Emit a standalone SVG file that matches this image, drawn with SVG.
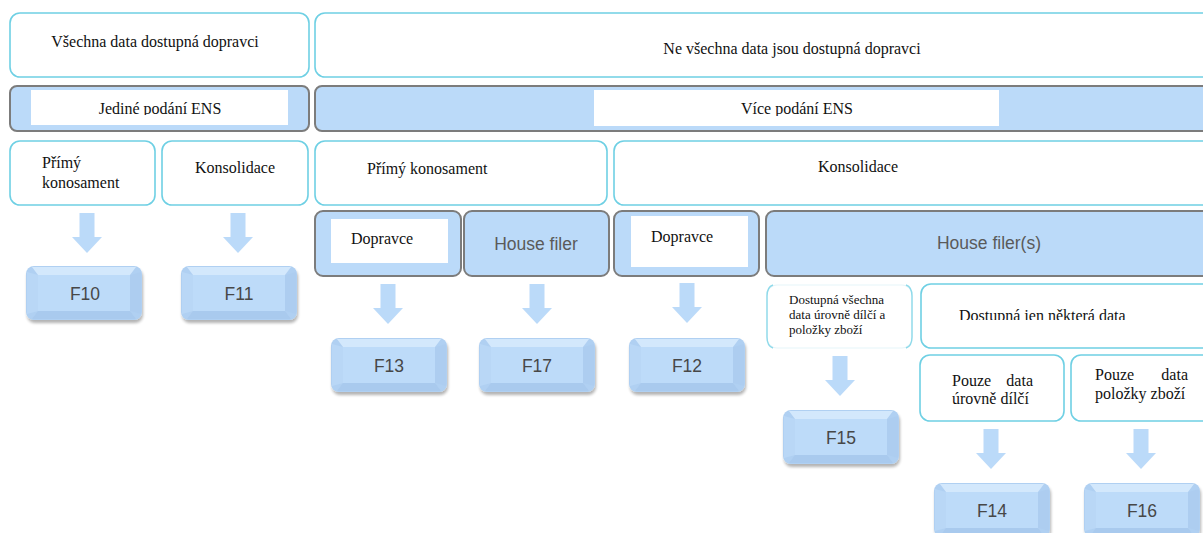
<svg xmlns="http://www.w3.org/2000/svg" width="1203" height="533" viewBox="0 0 1203 533">
<style>
.wb{fill:#ffffff;stroke:#6fd0e4;stroke-width:1.6}
.bb{fill:#bbdaf9;stroke:#7c7c7c;stroke-width:2}
.wr{fill:#ffffff}
.t{font-family:"Liberation Serif","Times New Roman",serif;font-size:16px;fill:#111}
.ts{font-family:"Liberation Serif","Times New Roman",serif;font-size:13px;fill:#111}
.hf{font-family:"Liberation Sans",Arial,sans-serif;font-size:17.5px;fill:#5a5a5a}
.fl{font-family:"Liberation Sans",Arial,sans-serif;font-size:17.5px;fill:#474747}
.ar{fill:#bbdaf9}
</style>
<defs>
<clipPath id="cj"><rect x="31" y="90" width="257" height="25"/></clipPath>
<clipPath id="cv"><rect x="594" y="90" width="405" height="26"/></clipPath>
<clipPath id="cd"><rect x="921" y="290" width="280" height="30"/></clipPath>
<filter id="sh" x="-10%" y="-10%" width="130%" height="140%">
<feGaussianBlur in="SourceAlpha" stdDeviation="1.8"/>
<feOffset dx="1" dy="2.5" result="b"/>
<feComponentTransfer><feFuncA type="linear" slope="0.3"/></feComponentTransfer>
<feMerge><feMergeNode/><feMergeNode in="SourceGraphic"/></feMerge>
</filter>
<symbol id="fb" width="118" height="56" viewBox="0 0 118 56" overflow="visible">
<g filter="url(#sh)">
<rect x="0" y="0" width="116" height="54" rx="8" fill="#b0d0f2"/>
<path d="M6 1 H110 L104 9 H12 Z" fill="#d3e8fc"/>
<path d="M1 6 L12 9 V45 L1 48 Z" fill="#b9d7f6"/>
<path d="M115 6 L104 9 V45 L115 48 Z" fill="#adcdf0"/>
<path d="M6 53 H110 L104 45 H12 Z" fill="#a9caee"/>
<rect x="12" y="9" width="92" height="36" fill="#bddbf9"/>
</g>
</symbol>
<path id="arw" d="M-7.5 0 H7.5 V24 H15 L0 40 L-15 24 H-7.5 Z"/>
</defs>

<g id="connectors">
<use href="#arw" class="ar" x="87" y="213"/>
<use href="#arw" class="ar" x="238" y="213"/>
<use href="#arw" class="ar" x="388" y="284"/>
<use href="#arw" class="ar" x="537" y="284"/>
<use href="#arw" class="ar" x="687" y="283"/>
<use href="#arw" class="ar" x="840" y="356"/>
<use href="#arw" class="ar" x="991" y="429"/>
<use href="#arw" class="ar" x="1141" y="429"/>
</g>

<g id="n-vsechna">
<rect class="wb" x="10" y="13" width="299" height="64" rx="10"/>
<text class="t" x="155" y="47" text-anchor="middle">Všechna data dostupná dopravci</text>
</g>
<g id="n-nevsechna">
<rect class="wb" x="315" y="13" width="905" height="64" rx="10"/>
<text class="t" x="792" y="54" text-anchor="middle">Ne všechna data jsou dostupná dopravci</text>
</g>

<g id="n-jedine">
<rect class="bb" x="10" y="86" width="299" height="45" rx="7"/>
<rect class="wr" x="31" y="90" width="257" height="35"/>
<text class="t" x="160" y="114" text-anchor="middle" clip-path="url(#cj)">Jediné podání ENS</text>
</g>
<g id="n-vice">
<rect class="bb" x="315" y="86" width="905" height="45" rx="7"/>
<rect class="wr" x="594" y="90" width="405" height="36"/>
<text class="t" x="797" y="114" text-anchor="middle" clip-path="url(#cv)">Více podání ENS</text>
</g>

<g id="n-primy1">
<rect class="wb" x="10" y="141" width="145" height="64" rx="10"/>
<text class="t" x="42" y="168">Přímý</text>
<text class="t" x="42" y="188">konosament</text>
</g>
<g id="n-konsol1">
<rect class="wb" x="162" y="141" width="146" height="64" rx="10"/>
<text class="t" x="235" y="173" text-anchor="middle">Konsolidace</text>
</g>
<g id="n-primy2">
<rect class="wb" x="315" y="141" width="292" height="64" rx="10"/>
<text class="t" x="367" y="174">Přímý konosament</text>
</g>
<g id="n-konsol2">
<rect class="wb" x="614" y="141" width="606" height="64" rx="10"/>
<text class="t" x="858" y="172" text-anchor="middle">Konsolidace</text>
</g>

<g id="n-doprav1">
<rect class="bb" x="315" y="211" width="146" height="65" rx="8"/>
<rect class="wr" x="331" y="219" width="117" height="44"/>
<text class="t" x="351" y="244">Dopravce</text>
</g>
<g id="n-house1">
<rect class="bb" x="464" y="211" width="145" height="65" rx="8"/>
<text class="hf" x="536" y="250" text-anchor="middle">House filer</text>
</g>
<g id="n-doprav2">
<rect class="bb" x="614" y="211" width="145" height="65" rx="8"/>
<rect class="wr" x="631" y="216" width="117" height="51"/>
<text class="t" x="651" y="242">Dopravce</text>
</g>
<g id="n-house2">
<rect class="bb" x="766" y="211" width="454" height="65" rx="8"/>
<text class="hf" x="989" y="249" text-anchor="middle">House filer(s)</text>
</g>

<g id="n-dostupna-vse">
<rect x="767" y="285" width="145" height="63" rx="10" fill="#fff" stroke="#e6f5f9" stroke-width="1.2"/>
<path d="M773 285 Q767 287 767 296 V337 Q767 346 773 348" fill="none" stroke="#8fdaea" stroke-width="1.4"/>
<path d="M906 285 Q912 287 912 296 V337 Q912 346 906 348" fill="none" stroke="#8fdaea" stroke-width="1.4"/>
<text class="ts" x="789" y="304">Dostupná všechna</text>
<text class="ts" x="789" y="319">data úrovně dílčí a</text>
<text class="ts" x="789" y="334">položky zboží</text>
</g>
<g id="n-dostupna-jen">
<rect class="wb" x="921" y="284" width="299" height="64" rx="10"/>
<text class="t" x="959" y="321" clip-path="url(#cd)">Dostupná jen některá data</text>
</g>

<g id="n-pouze-dilci">
<rect class="wb" x="920" y="355" width="144" height="66" rx="10"/>
<text class="t" x="952" y="386">Pouze</text>
<text class="t" x="1033" y="386" text-anchor="end">data</text>
<text class="t" x="952" y="404">úrovně dílčí</text>
</g>
<g id="n-pouze-polozky">
<rect class="wb" x="1071" y="355" width="149" height="66" rx="10"/>
<text class="t" x="1095" y="380">Pouze</text>
<text class="t" x="1188" y="380" text-anchor="end">data</text>
<text class="t" x="1095" y="399">položky zboží</text>
</g>

<g id="n-f10"><use href="#fb" x="26" y="266"/><text class="fl" x="85" y="300" text-anchor="middle">F10</text></g>
<g id="n-f11"><use href="#fb" x="181" y="266"/><text class="fl" x="239" y="300" text-anchor="middle">F11</text></g>
<g id="n-f13"><use href="#fb" x="331" y="338"/><text class="fl" x="389" y="372" text-anchor="middle">F13</text></g>
<g id="n-f17"><use href="#fb" x="479" y="338"/><text class="fl" x="537" y="372" text-anchor="middle">F17</text></g>
<g id="n-f12"><use href="#fb" x="629" y="338"/><text class="fl" x="687" y="372" text-anchor="middle">F12</text></g>
<g id="n-f15"><use href="#fb" x="783" y="410"/><text class="fl" x="841" y="444" text-anchor="middle">F15</text></g>
<g id="n-f14"><use href="#fb" x="934" y="483"/><text class="fl" x="992" y="517" text-anchor="middle">F14</text></g>
<g id="n-f16"><use href="#fb" x="1084" y="483"/><text class="fl" x="1142" y="517" text-anchor="middle">F16</text></g>
</svg>
